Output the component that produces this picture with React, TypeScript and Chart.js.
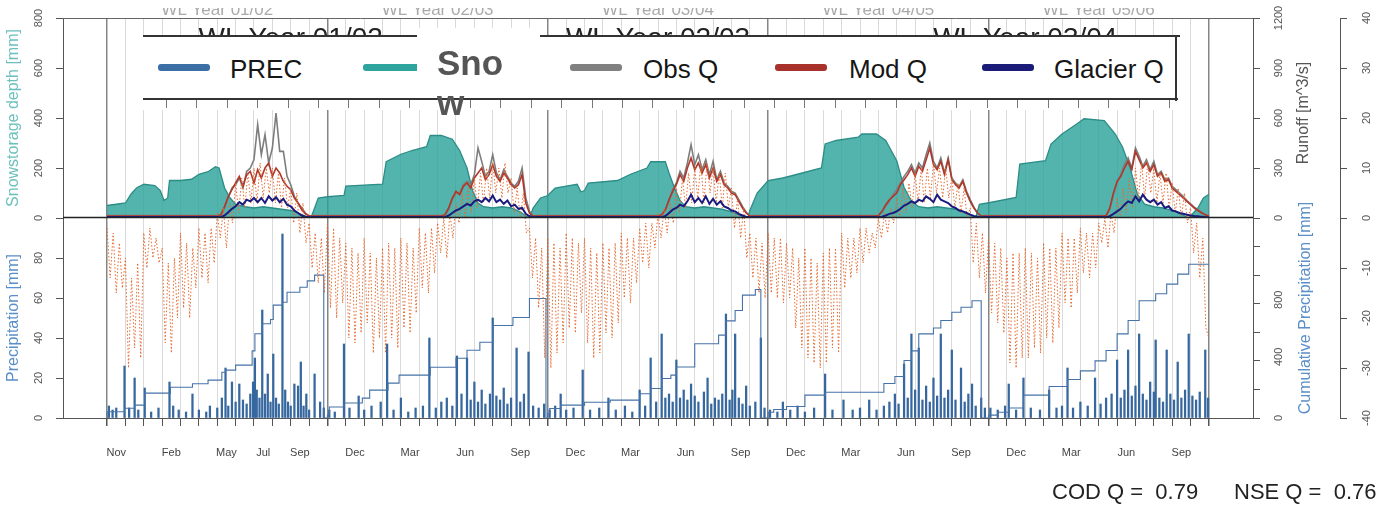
import React, { useEffect, useRef } from 'react';
import { Chart, registerables } from 'chart.js';

Chart.register(...registerables);

const FONT = '"Liberation Sans", Arial, Helvetica, sans-serif';

// x unit: months since 1 November of the first hydrological year
const monthLabels = ['Nov', 'Feb', 'May', 'Jul', 'Sep', 'Dec', 'Mar', 'Jun', 'Sep', 'Dec', 'Mar', 'Jun', 'Sep', 'Dec', 'Mar', 'Jun', 'Sep', 'Dec', 'Mar', 'Jun', 'Sep'];
const monthLabelPos = [0.5, 3.5, 6.5, 8.5, 10.5, 13.5, 16.5, 19.5, 22.5, 25.5, 28.5, 31.5, 34.5, 37.5, 40.5, 43.5, 46.5, 49.5, 52.5, 55.5, 58.5];
const monthLines = Array.from({ length: 61 }, (_, i) => i);

const yearTitles = ['WL Year 01/02', 'WL Year 02/03', 'WL Year 03/04', 'WL Year 04/05', 'WL Year 05/06'];
const yearTitleMonth = [6, 18, 30, 42, 54];
const upperTitles = ['WL Year 01/02', 'WL Year 02/03', 'WL Year 03/04'];
const upperTitleMonth = [10, 30, 50];

const snowTicks = [0, 200, 400, 600, 800];
const precTicks = [0, 20, 40, 60, 80];
const runoffTicks = [0, 300, 600, 900, 1200];
const cumTicks = [0, 400, 800];
const tempTicks = [40, 30, 20, 10, 0, -10, -20, -30, -40];

// Snow storage depth [mm] : [month, mm]
const snowDepth = [
  [0, 50], [0.5, 55], [1.0, 60], [1.3, 95], [1.6, 120], [2.0, 135], [2.6, 130], [2.9, 110], [3.1, 70], [3.3, 80], [3.4, 150], [4.0, 150], [4.6, 155], [5.0, 175], [5.5, 185], [5.9, 205], [6.1, 200], [6.4, 120], [6.7, 80], [7.0, 55], [7.5, 45], [8.0, 40], [8.5, 45], [9.0, 40], [9.5, 35], [10.0, 30], [10.4, 20], [10.8, 8], [11.1, 0],
  [11.3, 40], [11.5, 80], [12.0, 85], [12.9, 90], [13.0, 128], [15.0, 135], [15.2, 225], [16.0, 255], [16.6, 270], [17.4, 285], [17.6, 330], [18.2, 330], [18.8, 315], [19.2, 270], [19.6, 200], [19.9, 110], [20.2, 60], [20.5, 45], [21.0, 40], [21.5, 45], [22.0, 40], [22.5, 25], [22.8, 8], [23.0, 0],
  [23.2, 40], [23.6, 80], [24.0, 90], [24.4, 120], [25.6, 135], [25.8, 105], [26.0, 110], [26.2, 140], [27.8, 150], [28.5, 175], [29.4, 200], [29.6, 225], [30.4, 225], [30.6, 180], [30.9, 120], [31.2, 70], [31.5, 45], [32.0, 40], [32.5, 45], [33.0, 40], [33.5, 35], [34.0, 25], [34.5, 10], [34.9, 0],
  [35.0, 30], [35.4, 100], [36.0, 150], [36.8, 160], [37.6, 175], [38.9, 200], [39.1, 296], [39.7, 310], [40.9, 323], [41.1, 336], [41.9, 336], [42.4, 310], [43.0, 229], [43.4, 122], [43.8, 68], [44.2, 45], [44.7, 40], [45.2, 45], [45.7, 40], [46.2, 35], [46.7, 25], [47.1, 10], [47.3, 0],
  [47.5, 55], [48.1, 62], [49.5, 82], [49.7, 216], [51.1, 229], [51.4, 296], [52.0, 336], [52.8, 376], [53.2, 397], [54.3, 390], [54.9, 336], [55.3, 283], [55.7, 202], [56.1, 95], [56.5, 55], [57.0, 45], [57.5, 40], [58.0, 30], [58.5, 15], [58.9, 0], [59.4, 40], [59.7, 80], [60.0, 95],
];

// Daily precipitation [mm] : [month, mm]
const precipYear1 = [[0.1, 6], [0.3, 4], [0.5, 5], [0.95, 26], [1.2, 5], [1.5, 20], [1.7, 4], [2.05, 15], [2.4, 3], [2.8, 5], [3.4, 18], [3.6, 6], [3.9, 4], [4.3, 3], [4.65, 12], [5.0, 4], [5.4, 3], [5.6, 6], [6.0, 5], [6.25, 10], [6.45, 25], [6.6, 6], [6.8, 18], [7.0, 8], [7.2, 17], [7.4, 9], [7.6, 7], [7.8, 12], [7.95, 18], [8.05, 30], [8.15, 14], [8.3, 10], [8.45, 54], [8.6, 12], [8.75, 22], [8.9, 8], [9.05, 32], [9.2, 10], [9.35, 7], [9.55, 92], [9.7, 14], [9.85, 8], [10.0, 6], [10.2, 17], [10.4, 16], [10.55, 28], [10.7, 6], [10.85, 12], [11.0, 4], [11.3, 22], [11.6, 8], [11.8, 5]];
const precipYear2 = [[12.1, 4], [12.4, 3], [12.9, 37], [13.2, 5], [13.7, 11], [14.0, 4], [14.4, 6], [14.9, 8], [15.25, 37], [15.6, 4], [16.0, 10], [16.4, 3], [16.8, 5], [17.2, 6], [17.55, 40], [17.9, 5], [18.2, 8], [18.5, 10], [18.8, 6], [19.05, 31], [19.3, 12], [19.6, 30], [19.8, 9], [20.0, 18], [20.2, 8], [20.4, 14], [20.6, 7], [20.85, 12], [21.0, 50], [21.2, 11], [21.4, 9], [21.6, 15], [21.8, 7], [22.0, 10], [22.3, 35], [22.5, 8], [22.7, 12], [22.95, 33], [23.2, 6], [23.5, 5], [23.8, 7]];
const precipYear3 = [[24.1, 4], [24.4, 6], [24.7, 12], [25.0, 4], [25.4, 5], [25.9, 24], [26.3, 4], [26.8, 5], [27.3, 10], [27.7, 4], [28.2, 6], [28.6, 3], [29.0, 14], [29.3, 6], [29.6, 30], [29.9, 8], [30.2, 42], [30.4, 10], [30.6, 12], [30.8, 8], [31.0, 29], [31.2, 10], [31.4, 14], [31.6, 9], [31.8, 17], [32.0, 11], [32.2, 8], [32.5, 13], [32.7, 20], [32.9, 7], [33.1, 10], [33.3, 9], [33.5, 12], [33.7, 52], [33.9, 9], [34.05, 14], [34.2, 42], [34.4, 10], [34.6, 7], [34.8, 16], [35.0, 6], [35.3, 8], [35.6, 40], [35.8, 5]];
const precipYear4 = [[36.1, 4], [36.5, 3], [36.8, 8], [37.2, 4], [37.6, 6], [38.0, 3], [38.5, 5], [39.1, 22], [39.5, 4], [40.1, 9], [40.6, 4], [41.0, 5], [41.5, 9], [41.9, 4], [42.3, 6], [42.6, 8], [42.9, 12], [43.1, 7], [43.4, 27], [43.6, 10], [43.8, 42], [44.0, 14], [44.2, 35], [44.4, 9], [44.6, 16], [44.8, 8], [45.0, 20], [45.2, 11], [45.4, 42], [45.6, 10], [45.8, 14], [46.0, 34], [46.2, 9], [46.5, 25], [46.7, 8], [46.9, 12], [47.1, 17], [47.3, 6], [47.6, 10], [47.8, 5]];
const precipYear5 = [[48.1, 5], [48.5, 4], [48.9, 6], [49.1, 17], [49.5, 4], [49.9, 20], [50.3, 5], [50.8, 4], [51.3, 14], [51.7, 5], [52.0, 6], [52.3, 25], [52.6, 5], [53.0, 8], [53.4, 6], [53.8, 20], [54.1, 7], [54.4, 10], [54.7, 12], [55.0, 29], [55.2, 10], [55.4, 14], [55.6, 34], [55.8, 11], [56.0, 16], [56.2, 42], [56.4, 12], [56.6, 9], [56.8, 18], [57.0, 13], [57.1, 39], [57.3, 10], [57.5, 8], [57.7, 34], [57.9, 12], [58.1, 9], [58.3, 28], [58.5, 10], [58.7, 14], [58.9, 42], [59.1, 11], [59.3, 9], [59.5, 13], [59.8, 34], [59.95, 10]];

// Cumulative precipitation [mm] : [month, mm] (step line, reset each hydrological year)
const cumPrecip = [
  [0, 0], [0.95, 44], [1.5, 68], [2.05, 90], [3.45, 174], [4.65, 215], [5.5, 240], [6.25, 265], [6.45, 320], [7.0, 335], [7.9, 370], [8.05, 470], [8.45, 590], [8.9, 660], [9.05, 690], [9.55, 790], [9.8, 810], [10.5, 880], [10.9, 915], [11.3, 960], [11.8, 1000],
  [12.0, 0], [12.1, 20], [12.9, 77], [13.9, 105], [14.3, 139], [15.3, 195], [15.9, 244], [17.6, 300], [19.0, 355], [19.6, 418], [20.3, 474], [21.0, 530], [22.1, 648], [23.0, 704], [23.9, 836],
  [24.0, 0], [24.1, 30], [24.7, 67], [26.0, 90], [27.4, 110], [29.0, 125], [29.6, 170], [30.2, 206], [30.7, 276], [31.0, 300], [32.0, 357], [33.3, 520], [33.7, 580], [34.2, 680], [34.6, 752], [35.3, 860], [35.6, 900],
  [36.0, 0], [36.3, 40], [37.0, 60], [38.0, 80], [39.1, 160], [42.3, 180], [42.9, 241], [43.4, 290], [43.8, 403], [44.2, 470], [45.0, 589], [45.4, 630], [46.0, 682], [46.5, 740], [47.1, 775], [47.6, 821],
  [48.0, 0], [48.5, 20], [49.1, 40], [49.9, 70], [51.3, 160], [52.3, 220], [53.0, 270], [53.8, 330], [54.4, 400], [55.0, 473], [55.6, 589], [56.2, 682], [57.1, 821], [57.7, 870], [58.3, 937], [58.9, 1007], [59.8, 1076], [60.0, 1076],
];

// Runoff sampling months (winter anchors + summer samples every 0.2 month)
const seq = (start: number, n: number) => Array.from({ length: n }, (_, i) => +(start + 0.2 * i).toFixed(2));
const qMonth = [
  0, 3, 6.0, ...seq(6.2, 25),
  11.2, 14.5, 18.2, ...seq(18.4, 25),
  23.4, 27.0, 30.0, ...seq(30.2, 25),
  35.2, 39.0, 41.8, ...seq(42.0, 29),
  47.8, 51.0, 54.2, ...seq(54.4, 29),
];

// Observed runoff [m^3/s]
const obsQ = [
  15, 15, 15, 15, 60, 120, 180, 200, 240, 180, 280, 300, 350, 560, 380, 500, 330, 420, 630, 400, 400, 250, 200, 130, 90, 60, 30, 12,
  15, 15, 15, 15, 50, 110, 150, 150, 200, 220, 200, 260, 420, 340, 250, 280, 380, 270, 230, 290, 250, 210, 190, 220, 300, 120, 40, 12,
  15, 15, 15, 15, 45, 100, 170, 210, 280, 240, 330, 440, 320, 380, 290, 350, 260, 340, 230, 280, 210, 190, 160, 150, 110, 70, 35, 12,
  15, 15, 15, 12, 35, 70, 100, 140, 170, 210, 250, 280, 320, 270, 330, 300, 380, 450, 340, 300, 360, 270, 360, 240, 210, 190, 230, 160, 110, 65, 30, 12,
  15, 15, 15, 12, 50, 140, 210, 260, 320, 360, 300, 420, 370, 310, 350, 290, 340, 260, 280, 230, 240, 190, 170, 150, 130, 105, 85, 65, 50, 35, 20, 10,
];
// Modelled runoff [m^3/s]
const modQ = [
  12, 12, 12, 20, 70, 130, 170, 210, 250, 190, 260, 280, 210, 290, 240, 300, 330, 250, 300, 270, 220, 190, 170, 120, 90, 50, 25, 12,
  12, 12, 12, 20, 60, 120, 160, 140, 190, 210, 180, 240, 270, 300, 230, 260, 320, 250, 220, 270, 240, 200, 180, 200, 260, 90, 30, 12,
  12, 12, 12, 20, 50, 110, 160, 200, 260, 220, 300, 360, 290, 330, 270, 320, 240, 300, 220, 260, 200, 180, 150, 140, 100, 60, 30, 12,
  12, 12, 12, 15, 40, 80, 110, 130, 150, 200, 230, 260, 300, 250, 310, 280, 350, 420, 320, 290, 340, 260, 350, 230, 200, 180, 220, 150, 100, 60, 30, 12,
  12, 12, 12, 15, 60, 150, 220, 250, 300, 340, 290, 400, 350, 300, 330, 280, 320, 250, 270, 220, 230, 180, 160, 140, 120, 100, 80, 60, 45, 30, 20, 10,
];
// Glacier runoff [m^3/s]
const glacierQ = [
  6, 6, 6, 5, 15, 35, 55, 70, 95, 80, 110, 100, 120, 95, 120, 90, 130, 105, 125, 95, 115, 80, 70, 45, 30, 15, 8, 5,
  6, 6, 6, 5, 15, 30, 45, 55, 70, 85, 75, 100, 110, 95, 120, 100, 135, 95, 110, 85, 105, 70, 80, 55, 60, 25, 10, 5,
  6, 6, 6, 5, 12, 30, 50, 60, 80, 70, 100, 140, 95, 120, 90, 130, 85, 115, 80, 100, 70, 60, 45, 40, 25, 15, 8, 5,
  6, 6, 6, 5, 8, 15, 25, 30, 40, 55, 75, 85, 100, 90, 110, 100, 130, 115, 95, 140, 110, 100, 90, 70, 60, 45, 40, 30, 20, 12, 8, 5,
  6, 6, 6, 5, 10, 25, 40, 55, 80, 100, 90, 130, 100, 140, 110, 95, 110, 80, 95, 60, 70, 45, 40, 30, 25, 20, 15, 12, 10, 8, 6, 5,
];

// Air temperature [deg C], six readings per month from month 0 to 60
const temperature = [
  -2, -12, -3, -15, -5, -14, -8, -30, -12, -26, -9, -28, -3, -10, -2, -8, -4, -9, -6, -25, -9, -27, -8, -20, -3, -18, -5, -20, -6, -14, -2, -12, -3, -13, -2, -9,
  1, -4, 2, -6, 3, -1, 7, 1, 8, 2, 9, 3, 10, 3, 11, 4, 10, 5, 10, 3, 9, 2, 8, 2, 6, -1, 5, -3, 3, -5, -1, -10, -3, -13, -4, -15,
  -1, -18, -2, -20, -4, -17, -5, -24, -6, -25, -7, -23, -4, -21, -7, -27, -8, -24, -6, -27, -5, -24, -6, -26, -4, -22, -5, -23, -6, -19, -2, -14, -3, -15, -2, -11,
  -1, -7, 0, -8, 1, -4, 3, -1, 5, 0, 6, 1, 8, 2, 9, 3, 10, 4, 11, 5, 10, 4, 11, 5, 8, 1, 6, 0, 5, -3, -2, -12, -4, -18, -6, -28,
  -4, -30, -5, -27, -6, -25, -3, -22, -4, -23, -5, -19, -4, -25, -6, -28, -7, -27, -5, -23, -6, -24, -5, -21, -3, -16, -4, -17, -4, -13, -2, -9, -1, -10, -1, -6,
  1, -4, 2, -3, 3, -1, 6, 1, 8, 2, 9, 3, 10, 4, 11, 3, 11, 5, 10, 3, 9, 2, 9, 2, 6, -2, 4, -4, 2, -8, -3, -12, -4, -15, -5, -16,
  -3, -15, -4, -16, -4, -17, -5, -16, -6, -22, -8, -26, -6, -28, -8, -29, -9, -30, -7, -29, -6, -26, -6, -27, -3, -14, -4, -12, -4, -11, -2, -9, -2, -7, -3, -6,
  0, -4, 1, -3, 2, -1, 4, 0, 6, 1, 7, 2, 9, 3, 10, 3, 10, 4, 11, 5, 10, 4, 10, 4, 8, 2, 7, 1, 6, 0, 2, -9, -1, -12, -3, -15,
  -4, -19, -5, -21, -6, -23, -8, -29, -7, -30, -7, -28, -6, -28, -7, -26, -8, -27, -5, -24, -6, -25, -6, -22, -3, -17, -4, -18, -4, -15, -2, -11, -3, -12, -3, -10,
  -1, -5, 0, -6, 1, -3, 4, 0, 6, 1, 8, 2, 10, 4, 11, 4, 11, 5, 10, 3, 9, 3, 9, 2, 7, 1, 6, 0, 5, -1, 2, -7, -1, -12, -4, -22,
  -24,
];
const tempMonth = temperature.map((_, i) => i / 6);

const pairsToXY = (p: number[][]) => p.map(([x, y]) => ({ x, y }));
const zipXY = (xs: number[], ys: number[]) => xs.map((x, i) => ({ x, y: ys[i] }));

const overlayPlugin = {
  id: 'overlayText',
  afterDraw(chart: any) {
    const { ctx, chartArea: ca, scales } = chart;
    const xs = scales.x, ys = scales.ySnow, yp = scales.yPrec, yr = scales.yRun, yc = scales.yCum, yt = scales.yTemp;
    ctx.save();
    // top frame
    ctx.strokeStyle = '#666';
    ctx.lineWidth = 1;
    ctx.beginPath();
    ctx.moveTo(ca.left, ca.top + 0.5);
    ctx.lineTo(ca.right, ca.top + 0.5);
    ctx.stroke();
    // zero line between panels
    const y0 = Math.round(yt.getPixelForValue(0)) - 0.5;
    ctx.strokeStyle = '#222';
    ctx.lineWidth = 1.5;
    ctx.beginPath();
    ctx.moveTo(ca.left, y0);
    ctx.lineTo(ca.right, y0);
    ctx.stroke();

    const rot = (text: string, x: number, y: number, font: string, color: string) => {
      ctx.save();
      ctx.translate(x, y);
      ctx.rotate(-Math.PI / 2);
      ctx.font = font;
      ctx.fillStyle = color;
      ctx.textAlign = 'center';
      ctx.textBaseline = 'middle';
      ctx.fillText(text, 0, 0);
      ctx.restore();
    };
    const tf = `11px ${FONT}`;
    snowTicks.forEach((v) => rot(String(v), 39, ys.getPixelForValue(v), tf, '#555'));
    precTicks.forEach((v) => rot(String(v), 39, yp.getPixelForValue(v), tf, '#555'));
    runoffTicks.forEach((v) => rot(String(v), 1279, yr.getPixelForValue(v), tf, '#555'));
    cumTicks.filter((v) => v > 0).forEach((v) => rot(String(v), 1279, yc.getPixelForValue(v) - 4, tf, '#555'));
    rot('0', 1279, yc.getPixelForValue(0), tf, '#555');
    tempTicks.forEach((v) => rot(String(v), 1367, yt.getPixelForValue(v), tf, '#555'));

    const tt = `16px ${FONT}`;
    rot('Snowstorage depth [mm]', 14, (ys.top + ys.bottom) / 2, tt, '#6cc0bd');
    rot('Precipitation [mm]', 14, (yp.top + yp.bottom) / 2, tt, '#5b8fc7');
    rot('Runoff [m^3/s]', 1304, (yr.top + yr.bottom) / 2 - 5, tt, '#555');
    rot('Cumulative Precipitation [mm]', 1306, (yc.top + yc.bottom) / 2 - 10, tt, '#5b8fc7');

    // month labels
    ctx.font = `11px ${FONT}`;
    ctx.fillStyle = '#444';
    ctx.textAlign = 'center';
    ctx.textBaseline = 'middle';
    monthLabels.forEach((t, i) => ctx.fillText(t, xs.getPixelForValue(monthLabelPos[i]), 453));

    // partially hidden year titles at the top
    ctx.save();
    ctx.beginPath();
    ctx.rect(0, 8, chart.width, 9);
    ctx.clip();
    ctx.font = `17px ${FONT}`;
    ctx.fillStyle = '#aaa';
    ctx.textBaseline = 'alphabetic';
    yearTitles.forEach((t, i) => ctx.fillText(t, xs.getPixelForValue(yearTitleMonth[i]), 15));
    ctx.restore();
    ctx.save();
    ctx.beginPath();
    ctx.rect(0, 19, chart.width, 17);
    ctx.clip();
    ctx.font = `28px ${FONT}`;
    ctx.fillStyle = '#222';
    ctx.textBaseline = 'alphabetic';
    upperTitles.forEach((t, i) => ctx.fillText(t, xs.getPixelForValue(upperTitleMonth[i]), 47));
    ctx.restore();
    ctx.restore();
  },
};

const legendItems = [
  { label: 'PREC', color: '#3b6fa6', sx: 15, tx: 87 },
  { label: 'Obs Q', color: '#808080', sx: 427, tx: 500 },
  { label: 'Mod Q', color: '#a8312c', sx: 632, tx: 706 },
  { label: 'Glacier Q', color: '#1b1b78', sx: 839, tx: 911 },
];

export default function App() {
  const ref = useRef<HTMLCanvasElement | null>(null);

  useEffect(() => {
    if (!ref.current) return;
    const tickGrid = { drawOnChartArea: false, drawTicks: true, tickLength: 7, tickColor: '#555', offset: false };
    const border = { display: true, color: '#555', width: 1 };
    const chart = new Chart(ref.current, {
      type: 'line',
      data: {
        datasets: [
          {
            type: 'line', label: 'Snow', data: pairsToXY(snowDepth), yAxisID: 'ySnow',
            borderColor: '#2c8d87', borderWidth: 1.3, backgroundColor: 'rgba(40,160,152,0.8)', fill: 'origin', order: 10,
          },
          {
            type: 'bar', label: 'PREC', data: pairsToXY([...precipYear1, ...precipYear2, ...precipYear3, ...precipYear4, ...precipYear5]), yAxisID: 'yPrec',
            backgroundColor: '#36679f', barThickness: 1.6, order: 9,
          },
          {
            type: 'line', label: 'Cumulative', data: pairsToXY(cumPrecip), yAxisID: 'yCum', stepped: 'after',
            borderColor: '#4572a8', borderWidth: 1.1, fill: false, order: 8,
          },
          {
            type: 'line', label: 'Obs Q', data: zipXY(qMonth, obsQ), yAxisID: 'yRun',
            borderColor: '#7d7d7d', borderWidth: 1.6, fill: false, order: 6,
          },
          {
            type: 'line', label: 'Mod Q', data: zipXY(qMonth, modQ), yAxisID: 'yRun',
            borderColor: '#b0382b', borderWidth: 1.6, fill: false, order: 5,
          },
          {
            type: 'line', label: 'Temperature', data: zipXY(tempMonth, temperature), yAxisID: 'yTemp',
            borderColor: '#e5692f', borderWidth: 1, borderDash: [1.5, 2], fill: false, order: 4,
          },
          {
            type: 'line', label: 'Glacier Q', data: zipXY(qMonth, glacierQ), yAxisID: 'yRun',
            borderColor: '#1b1b7e', borderWidth: 2, fill: false, order: 3,
          },
        ],
      } as any,
      options: {
        animation: false,
        responsive: false,
        maintainAspectRatio: false,
        layout: { padding: { top: 18, left: 0, right: 0, bottom: 0 } },
        elements: { point: { radius: 0 }, line: { tension: 0 } },
        plugins: { legend: { display: false }, tooltip: { enabled: false }, title: { display: false } },
        scales: {
          x: {
            type: 'linear', min: -2.4, max: 62.4, offset: false,
            afterBuildTicks: (s: any) => { s.ticks = monthLines.map((v) => ({ value: v })); },
            ticks: { display: false },
            grid: {
              offset: false,
              color: (c: any) => (c.tick && c.tick.value % 12 === 0 ? '#858585' : '#dadada'),
              lineWidth: (c: any) => (c.tick && c.tick.value % 12 === 0 ? 1.5 : 1),
              drawTicks: true, tickLength: 8, tickColor: '#555',
            },
            border,
            afterFit: (s: any) => { s.height = 87; },
          },
          yPrec: {
            type: 'linear', position: 'left', stack: 'left', stackWeight: 1, min: 0, max: 100,
            ticks: { display: false, stepSize: 20 }, grid: tickGrid, border,
            afterFit: (s: any) => { s.width = 63; },
          },
          ySnow: {
            type: 'linear', position: 'left', stack: 'left', stackWeight: 1, min: 0, max: 800,
            ticks: { display: false, stepSize: 200 }, grid: tickGrid, border,
            afterFit: (s: any) => { s.width = 63; },
          },
          yRun: {
            type: 'linear', position: 'right', stack: 'right', stackWeight: 1, min: 0, max: 1200,
            ticks: { display: false, stepSize: 300 }, grid: tickGrid, border,
            afterFit: (s: any) => { s.width = 87; },
          },
          yCum: {
            type: 'linear', position: 'right', stack: 'right', stackWeight: 1, min: 0, max: 1400,
            ticks: { display: false, stepSize: 200 }, grid: tickGrid, border,
            afterFit: (s: any) => { s.width = 87; },
          },
          yTemp: {
            type: 'linear', position: 'right', min: -40, max: 40,
            ticks: { display: false, stepSize: 10 }, grid: tickGrid, border,
            afterFit: (s: any) => { s.width = 43; },
          },
        },
      } as any,
      plugins: [overlayPlugin],
    });
    return () => chart.destroy();
  }, []);

  const textBase: React.CSSProperties = { position: 'absolute', fontFamily: FONT, whiteSpace: 'pre', color: '#161616' };

  return (
    <div style={{ position: 'absolute', left: 0, top: 0, width: 1383, height: 505, background: '#fff', overflow: 'hidden' }}>
      <canvas ref={ref} width={1383} height={505} style={{ position: 'absolute', left: 0, top: 0, width: 1383, height: 505 }} />
      {/* legend */}
      <div style={{ position: 'absolute', left: 143, top: 35, width: 1037, height: 75, background: '#fff' }}>
        <div style={{ position: 'absolute', left: 0, top: 0, width: 1037, height: 2, background: '#333' }} />
        <div style={{ position: 'absolute', left: 1032, top: 0, width: 2, height: 66, background: '#333' }} />
        <div style={{ position: 'absolute', left: 0, top: 63, width: 1035, height: 2, background: '#333' }} />
        <div style={{ position: 'absolute', left: 23, top: 65, width: 1006, height: 8, backgroundImage: 'repeating-linear-gradient(to right, #777 0px, #777 1px, transparent 1px, transparent 30.4px)' }} />
        {legendItems.map((it) => (
          <React.Fragment key={it.label}>
            <div style={{ position: 'absolute', left: it.sx, top: 29, width: 52, height: 7, borderRadius: 3, background: it.color }} />
            <div style={{ ...textBase, left: it.tx, top: 21, fontSize: 26, lineHeight: '26px' }}>{it.label}</div>
          </React.Fragment>
        ))}
        <div style={{ position: 'absolute', left: 220, top: 29, width: 60, height: 7, borderRadius: 3, background: '#2fa39d' }} />
      </div>
      <div style={{ position: 'absolute', left: 417, top: 28, width: 123, height: 70, background: '#fff' }} />
      <div style={{ position: 'absolute', left: 437, top: 43, width: 70, fontFamily: FONT, fontWeight: 'bold', fontSize: 35, lineHeight: '40px', color: '#555', wordBreak: 'break-all' }}>Snow</div>
      {/* goodness of fit */}
      <div style={{ ...textBase, left: 1052, top: 481, fontSize: 22, lineHeight: '22px', color: '#222' }}>{'COD Q =  0.79'}</div>
      <div style={{ ...textBase, left: 1234, top: 481, fontSize: 22, lineHeight: '22px', color: '#222' }}>{'NSE Q =  0.76'}</div>
    </div>
  );
}
